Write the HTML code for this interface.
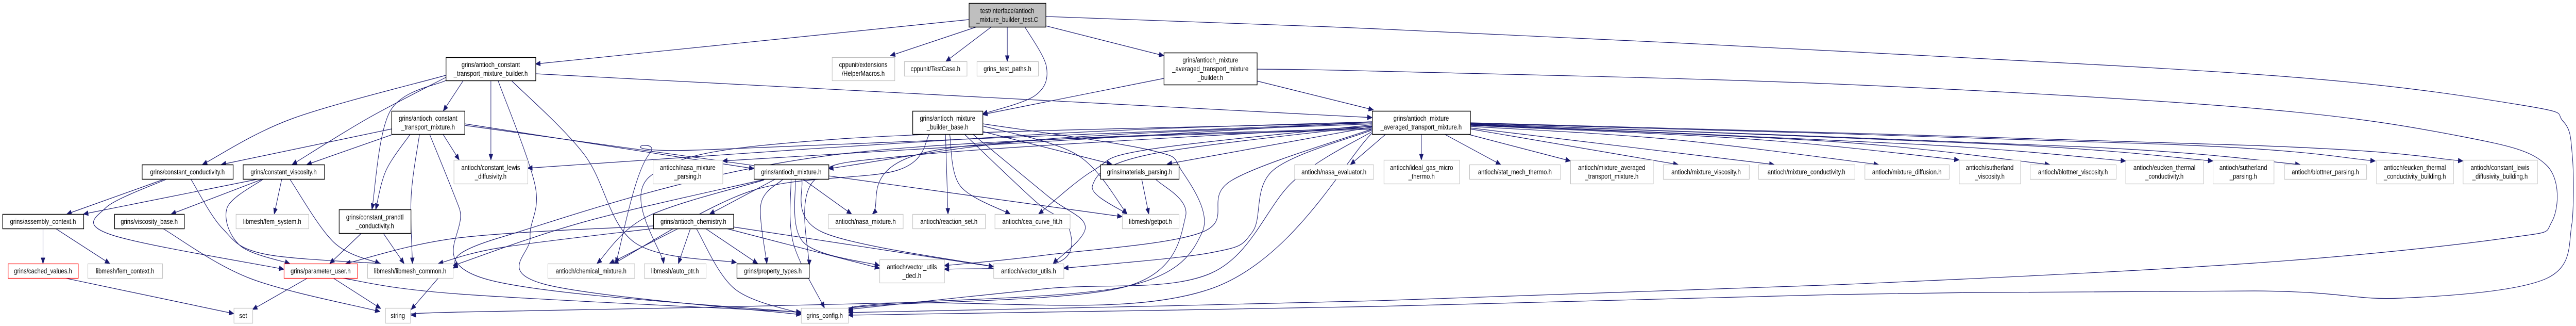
<!DOCTYPE html>
<html><head><meta charset="utf-8"><meta name="viewport" content="width=6171,initial-scale=1"><style>
html,body{margin:0;padding:0;background:#fff;width:100%;height:100%;overflow:hidden}
svg{display:block;width:100vw;height:100vh;position:absolute;left:0;top:0}
text{font-family:"Liberation Sans",sans-serif;font-size:14px;fill:#000}
</style></head><body>
<svg id="g" xmlns="http://www.w3.org/2000/svg" viewBox="0 0 6171 632" preserveAspectRatio="none">
<rect width="6171" height="632" fill="#fff"/>
<g id="edges" fill="none" stroke="#191970" stroke-width="1.2"></g>
<g id="arrows" fill="#191970" stroke="#191970"></g>
<g id="nodes"></g>
</svg>
<script>
var N=[
[2321,2505,6,52,'t',["test/interface/antioch","_mixture_builder_test.C"]],
[1068,1283,111,156,'k',["grins/antioch_constant","_transport_mixture_builder.h"]],
[1993,2143,111,156,'g',["cppunit/extensions","/HelperMacros.h"]],
[2166,2316,119,147,'g',["cppunit/TestCase.h"]],
[2340,2487,119,147,'g',["grins_test_paths.h"]],
[2788,3011,102,164,'k',["grins/antioch_mixture","_averaged_transport_mixture","_builder.h"]],
[938,1113,215,260,'k',["grins/antioch_constant","_transport_mixture.h"]],
[2186,2354,215,260,'k',["grins/antioch_mixture","_builder_base.h"]],
[3287,3522,215,260,'k',["grins/antioch_mixture","_averaged_transport_mixture.h"]],
[340,558,319,347,'k',["grins/constant_conductivity.h"]],
[582,777,319,347,'k',["grins/constant_viscosity.h"]],
[1087,1264,310,356,'g',["antioch/constant_lewis","_diffusivity.h"]],
[1564,1731,310,356,'g',["antioch/nasa_mixture","_parsing.h"]],
[1806,1985,319,347,'k',["grins/antioch_mixture.h"]],
[2636,2824,319,347,'k',["grins/materials_parsing.h"]],
[3101,3290,319,347,'g',["antioch/nasa_evaluator.h"]],
[3315,3496,310,356,'g',["antioch/ideal_gas_micro","_thermo.h"]],
[3520,3738,319,347,'g',["antioch/stat_mech_thermo.h"]],
[3762,3960,310,356,'g',["antioch/mixture_averaged","_transport_mixture.h"]],
[3984,4190,319,347,'g',["antioch/mixture_viscosity.h"]],
[4212,4443,319,347,'g',["antioch/mixture_conductivity.h"]],
[4467,4669,319,347,'g',["antioch/mixture_diffusion.h"]],
[4693,4840,310,356,'g',["antioch/sutherland","_viscosity.h"]],
[4863,5069,319,347,'g',["antioch/blottner_viscosity.h"]],
[5092,5278,310,356,'g',["antioch/eucken_thermal","_conductivity.h"]],
[5301,5447,310,356,'g',["antioch/sutherland","_parsing.h"]],
[5472,5669,319,347,'g',["antioch/blottner_parsing.h"]],
[5693,5877,310,356,'g',["antioch/eucken_thermal","_conductivity_building.h"]],
[5900,6078,310,356,'g',["antioch/constant_lewis","_diffusivity_building.h"]],
[6,200,415,443,'k',["grins/assembly_context.h"]],
[274,441,415,443,'k',["grins/viscosity_base.h"]],
[565,739,415,443,'g',["libmesh/fem_system.h"]],
[812,984,406,452,'k',["grins/constant_prandtl","_conductivity.h"]],
[1565,1757,415,443,'k',["grins/antioch_chemistry.h"]],
[1984,2163,415,443,'g',["antioch/nasa_mixture.h"]],
[2186,2360,415,443,'g',["antioch/reaction_set.h"]],
[2383,2563,415,443,'g',["antioch/cea_curve_fit.h"]],
[2688,2824,415,443,'g',["libmesh/getpot.h"]],
[19,187,511,539,'r',["grins/cached_values.h"]],
[210,389,511,539,'g',["libmesh/fem_context.h"]],
[680,856,511,539,'r',["grins/parameter_user.h"]],
[880,1085,511,539,'g',["libmesh/libmesh_common.h"]],
[1312,1520,511,539,'g',["antioch/chemical_mixture.h"]],
[1543,1691,511,539,'g',["libmesh/auto_ptr.h"]],
[1765,1938,511,539,'k',["grins/property_types.h"]],
[2107,2262,503,548,'g',["antioch/vector_utils","_decl.h"]],
[2380,2548,511,539,'g',["antioch/vector_utils.h"]],
[560,605,597,626,'g',["set"]],
[923,983,597,626,'g',["string"]],
[1919,2032,597,626,'g',["grins_config.h"]]
];
var E=[
[2321,38,1283,124],[2340,52,2133,108],[2375,52,2266,119],[2413,52,2413,119],
[2455,52,2507,130,2480,185,2354,221],[2505,50,2788,108],
[2505,32,3300,56,4400,99,5500,150,6050,205,6140,235,6162,300,6162,430,6100,540,5750,578,5400,564,4400,571,3300,594,2032,611],
[3011,134,3300,138,4400,163,5400,210,5900,265,6100,320,6113,430,6000,462,5400,510,4400,552,3300,583,2032,606],
[1068,146,700,230,485,319],[1068,150,880,230,700,319],[1110,156,1062,215],
[1068,156,935,215,891,406],[1176,156,1176,310],[1283,143,3287,228],
[1193,156,1282,360,1270,460,1300,550,1919,610],[1225,156,1400,300,1520,470,1764,509],
[938,250,530,319],[943,260,735,319],[983,260,925,330,900,406],[1005,260,985,380,988,511],
[1061,260,1100,310],[1113,240,1806,327],[1113,243,2688,420],[1029,260,1100,403,1160,540,1919,606],
[395,347,160,415],[400,347,253,403,266,455,680,522],[457,347,533,443,631,492,912,511],
[620,347,200,415],[630,347,410,415],[675,347,657,415],[631,347,544,403,575,476,694,511],
[694,347,800,470,910,511],
[103,443,103,511],[133,443,263,511],[390,443,600,540,910,604],
[866,452,790,511],[918,452,968,511],[155,539,560,608],
[737,539,605,600],[798,539,912,598],[818,539,1100,570,1919,605],[1050,539,985,600],
[1858,347,1700,415],[1923,347,2040,415],[1830,349,1550,420,1430,511],
[1875,348,1823,395,1837,511],[1895,347,1900,470,1975,597],[1905,347,1925,470,2107,515],
[1920,347,1970,450,2380,517],[1836,347,1400,430,1085,515],
[1625,443,1460,511],[1654,443,1625,511],[1690,443,1815,511],[1668,443,1760,560,1919,608],
[1740,443,2107,520],[1757,440,2380,517],[1565,438,1100,461,828,511],[1565,443,1200,480,1050,511],
[2735,347,2752,415],[2768,347,2840,420,2700,555,2100,592,2032,600],
[2788,152,2354,222],[3011,157,3290,213],
[2354,255,2663,318],[2354,244,2580,300,2700,415],[2265,260,2271,415],[2275,260,2300,360,2420,415],
[2310,260,2480,390,2560,440,2530,510,2262,522],[2330,260,2510,380,2600,440,2523,511],
[2354,240,2750,290,2830,330,2880,450,2700,555,2100,590,2032,603],
[2227,260,2150,330,1800,370,1470,511],
[3320,260,3235,319],[3405,260,3405,310],[3460,260,3595,319],[3515,260,3762,312],
[3522,250,4020,319],[3522,248,4250,319],[3522,245,4000,270,4500,319],[3522,243,4200,270,4693,310],
[3522,242,4400,275,4910,319],[3522,241,4600,280,5092,312],[3522,240,4800,280,5301,312],
[3522,240,5000,285,5510,319],[3522,239,5200,280,5690,312],[3522,238,5400,282,5900,312],
[3287,246,2796,318],[3287,242,2750,290,2620,330,2488,415],[3287,244,2750,300,2617,360,2700,415],
[3287,250,2950,350,2880,450,2500,495,2262,515],[3287,252,3050,330,3000,450,2900,490,2548,520],
[3287,255,3100,350,2900,530,2500,560,2032,600],[3287,240,2500,270,1985,327],
[3287,248,2250,290,2090,415],[3287,236,1731,312],[3287,236,2500,260,1264,326],
[3287,238,2000,270,1560,340,1590,511],[3287,238,1700,290,1556,298,1475,511],
[3287,250,2000,300,1200,460,1085,520],[3287,245,2200,300,1950,350,1938,515],
[3287,258,2900,560,2100,588,1100,605,985,611]
];
var NS="http://www.w3.org/2000/svg";
function el(n,a,p){var e=document.createElementNS(NS,n);for(var k in a)e.setAttribute(k,a[k]);p.appendChild(e);return e;}
function cx(v){return Math.min(v,6166);}
var ge=document.getElementById('edges'),ga=document.getElementById('arrows'),gn=document.getElementById('nodes');
E.forEach(function(a){
 var P=[];for(var i=0;i<a.length;i+=2)P.push([a[i],a[i+1]]);
 var n=P.length,d="M"+P[0][0]+","+P[0][1],lc;
 if(n==2){d+=" L"+P[1][0]+","+P[1][1];lc=P[0];}
 else{for(var i=0;i<n-1;i++){var p0=P[Math.max(i-1,0)],p1=P[i],p2=P[i+1],p3=P[Math.min(i+2,n-1)];
  var c1=[cx(p1[0]+(p2[0]-p0[0])/6),p1[1]+(p2[1]-p0[1])/6],c2=[cx(p2[0]-(p3[0]-p1[0])/6),p2[1]-(p3[1]-p1[1])/6];
  d+=" C"+c1[0].toFixed(1)+","+c1[1].toFixed(1)+" "+c2[0].toFixed(1)+","+c2[1].toFixed(1)+" "+p2[0]+","+p2[1];
  if(i==n-2){lc=c2;if(Math.abs(c2[0]-p2[0])+Math.abs(c2[1]-p2[1])<1)lc=p1;}}}
 el('path',{d:d},ge);
 var e=P[n-1],dx=e[0]-lc[0],dy=e[1]-lc[1],L=Math.sqrt(dx*dx+dy*dy)||1;dx/=L;dy/=L;
 var b=[e[0]-dx*11,e[1]-dy*11],w=4.5;
 el('polygon',{points:e[0]+","+e[1]+" "+(b[0]-dy*w)+","+(b[1]+dx*w)+" "+(b[0]+dy*w)+","+(b[1]-dx*w)},ga);
});
N.forEach(function(n){
 var st=n[4],stroke=st=='g'?'#bfbfbf':(st=='r'?'#ff0000':'#000'),fill=st=='t'?'#bfbfbf':'#fff';
 el('rect',{x:n[0]+.5,y:n[2]+.5,width:n[1]-n[0],height:n[3]-n[2],fill:fill,stroke:stroke,'stroke-width':(st=='k'||st=='t')?1.5:1.2},gn);
 var cxx=(n[0]+n[1])/2,cy=(n[2]+n[3])/2,L=n[5],k=L.length;
 L.forEach(function(s,i){var t=el('text',{x:cxx,y:cy+(i-(k-1)/2)*17+5,'text-anchor':'middle'},gn);t.textContent=s;});
});
</script>
</body></html>
